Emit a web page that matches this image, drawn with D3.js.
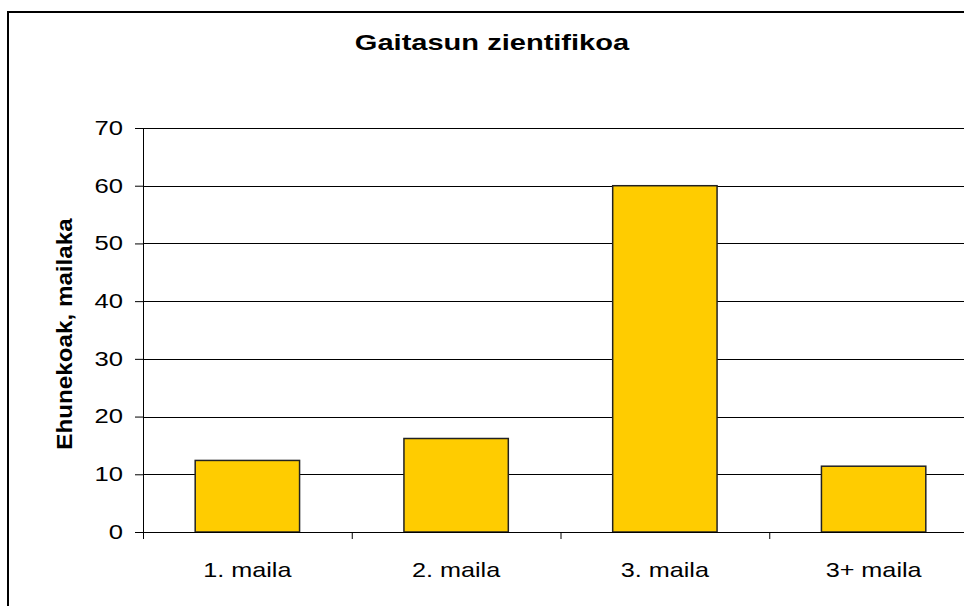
<!DOCTYPE html>
<html>
<head>
<meta charset="utf-8">
<script src="https://cdn.jsdelivr.net/npm/d3@7"></script>
<style>
  body { margin: 0; background: #fff; }
  text { font-family: "Liberation Sans", Arial, sans-serif; fill: #000; }
</style>
</head>
<body>
<div id="chart"></div>
<script>
var categories = ["1. maila", "2. maila", "3. maila", "3+ maila"];
var values = [12.4, 16.2, 60.0, 11.4];
var yTicks = [0, 10, 20, 30, 40, 50, 60, 70];

var svgWidth = 964;
var svgHeight = 606;

var margin = { top: 128, left: 143, bottom: 74, right: -14 };
var width = svgWidth - margin.left - margin.right;
var height = svgHeight - margin.top - margin.bottom;

// the original text is drawn a bit wider than normal, so stretch it sideways
function stretch(sel, factor) {
  sel.each(function() {
    var w = this.getComputedTextLength();
    d3.select(this)
      .attr("textLength", w * factor)
      .attr("lengthAdjust", "spacingAndGlyphs");
  });
}

var svg = d3.select("#chart")
  .append("svg")
  .attr("width", svgWidth)
  .attr("height", svgHeight);

// outer frame (runs off the right and bottom edge like the original)
svg.append("rect")
  .attr("x", 8)
  .attr("y", 12)
  .attr("width", 1000)
  .attr("height", 700)
  .attr("fill", "none")
  .attr("stroke", "#000")
  .attr("stroke-width", 2);

var title = svg.append("text")
  .attr("x", 492)
  .attr("y", 50)
  .attr("text-anchor", "middle")
  .attr("font-size", 22)
  .attr("font-weight", "bold")
  .text("Gaitasun zientifikoa");
stretch(title, 1.32);

var chartGroup = svg.append("g")
  .attr("transform", `translate(${margin.left}, ${margin.top})`);

var xScale = d3.scaleBand()
  .domain(categories)
  .range([0, width])
  .paddingInner(0.5)
  .paddingOuter(0.25);

var yScale = d3.scaleLinear()
  .domain([0, 70])
  .range([height, 0]);

// gridlines
chartGroup.selectAll(".grid")
  .data(yTicks.slice(1))
  .enter()
  .append("line")
  .attr("x1", 0)
  .attr("x2", width)
  .attr("y1", d => Math.round(yScale(d)) + 0.5)
  .attr("y2", d => Math.round(yScale(d)) + 0.5)
  .attr("stroke", "#000")
  .attr("stroke-width", 1);

// bars
chartGroup.selectAll("rect.bar")
  .data(values)
  .enter()
  .append("rect")
  .attr("class", "bar")
  .attr("x", (d, i) => xScale(categories[i]))
  .attr("y", d => yScale(d))
  .attr("width", xScale.bandwidth())
  .attr("height", d => height - yScale(d))
  .attr("fill", "#FFCC00")
  .attr("stroke", "#222")
  .attr("stroke-width", 1.5);

// y axis
var leftAxis = d3.axisLeft(yScale)
  .tickValues(yTicks)
  .tickSize(8)
  .tickPadding(12);
var yAxis = chartGroup.append("g").call(leftAxis);
yAxis.select(".domain").attr("d", `M0.5,${height}V0`);
yAxis.selectAll("text")
  .attr("font-size", 20)
  .attr("font-family", "Liberation Sans, Arial, sans-serif")
  .call(stretch, 1.28);

// x axis with ticks on category boundaries
var boundary = d3.scaleLinear().domain([0, 4]).range([0, width]);
var bottomAxis = d3.axisBottom(boundary)
  .tickValues([0, 1, 2, 3, 4])
  .tickSize(7)
  .tickFormat("");
var xAxis = chartGroup.append("g")
  .attr("transform", `translate(0, ${height})`)
  .call(bottomAxis);
xAxis.select(".domain").attr("d", `M-8,0.5H${width}`);

chartGroup.selectAll(".xlabel")
  .data(categories)
  .enter()
  .append("text")
  .attr("class", "xlabel")
  .attr("x", d => xScale(d) + xScale.bandwidth() / 2)
  .attr("y", height + 45)
  .attr("text-anchor", "middle")
  .attr("font-size", 21)
  .text(d => d)
  .call(stretch, 1.2);

var yLabel = svg.append("text")
  .attr("transform", "rotate(-90)")
  .attr("x", -334)
  .attr("y", 72)
  .attr("text-anchor", "middle")
  .attr("font-size", 22)
  .attr("font-weight", "bold")
  .text("Ehunekoak, mailaka");
stretch(yLabel, 1.1);
</script>
</body>
</html>
